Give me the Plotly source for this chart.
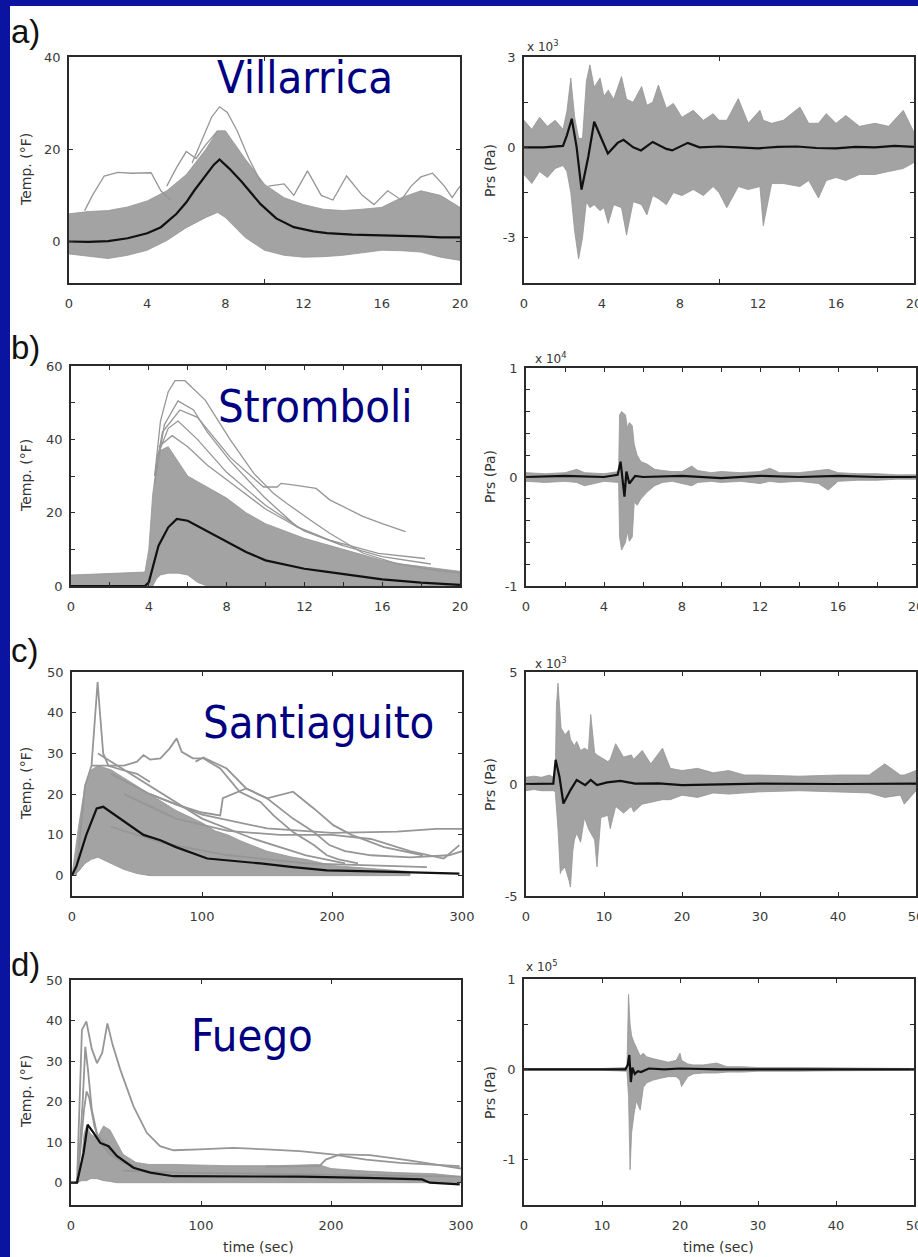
import plotly.graph_objects as go

W, H = 918, 1257

# ---------------- DATA ----------------
# a) Villarrica temperature (degF) vs time (s)
vil_t_x  = [0, 1, 2, 3, 4, 5, 6, 7, 7.6, 8, 9, 10, 11, 12, 13, 14, 15, 16, 17, 18, 19, 20]
vil_t_hi = [6, 6.5, 6.7, 7.5, 8.8, 11, 14.5, 20, 24, 24, 18, 12.4, 9.5, 8, 7, 6.7, 7, 7.4, 9.5, 11, 10, 7.4]
vil_t_lo = [-2.7, -3.2, -3.7, -3, -1.9, 0.2, 3, 5.2, 6.3, 5.2, 0.9, -1.9, -3, -3.4, -3.3, -3, -2.5, -1.9, -2, -2.3, -3.4, -4.1]
vil_t_o1_x = [0.8, 1.2, 1.8, 2.5, 3.2, 4.2, 4.7, 5.2]
vil_t_o1_y = [6.7, 10, 14.2, 15, 14.8, 14.9, 11, 9]
vil_t_o2_x = [6.3, 6.8, 7.3, 7.7, 8.1, 8.6, 9.2, 9.8]
vil_t_o2_y = [17, 22, 27, 29.2, 28, 24, 18, 13]
vil_t_o3_x = [10.2, 11, 11.5, 12.2, 12.9, 13.5, 14.2, 15, 15.6, 16.3, 17, 17.5, 18, 18.6, 19.2, 19.6, 20]
vil_t_o3_y = [12, 12.5, 10, 15.3, 10, 9, 14.2, 10, 8, 11, 9, 12, 14, 14.8, 12, 9.5, 12]
vil_t_o4_x = [5, 5.5, 6, 6.5, 7, 7.6]
vil_t_o4_y = [12, 16, 19.5, 18, 21, 24]
vil_t_m_x = [0, 1, 2, 3, 4, 4.7, 5.5, 6, 6.4, 7, 7.4, 7.7, 8.2, 8.8, 9.8, 10.6, 11.5, 12.5, 13.2, 14.5, 16.6, 18, 19, 20]
vil_t_m_y = [0, -0.1, 0.1, 0.7, 1.8, 3.1, 6, 8.5, 11, 14.5, 16.6, 17.8, 15.8, 13.1, 8.1, 5, 3.1, 2.2, 1.8, 1.5, 1.3, 1.1, 0.9, 0.9]

# a) Villarrica pressure (x 10^3 Pa)
vil_p_x  = [0, 0.4, 0.8, 1.2, 1.6, 2.0, 2.2, 2.4, 2.6, 2.8, 3.0, 3.2, 3.38, 3.6, 3.9, 4.1, 4.32, 4.6, 5.0, 5.26,
            5.6, 6.03, 6.3, 6.6, 6.89, 7.3, 7.66, 8.1, 8.68, 9.2, 9.7, 10.0, 10.4, 10.99, 11.5, 12.1, 12.27, 12.7, 13.3, 14.15,
            14.6, 15.1, 15.5, 16.0, 16.5, 17.2, 18.0, 18.7, 19.45, 20]
vil_p_hi = [0.9, 0.6, 1.0, 0.7, 0.9, 0.6, 1.2, 2.3, 1.0, 0.3, 0.3, 2.2, 2.74, 2.0, 2.3, 1.7, 1.9, 1.6, 2.35, 1.6,
            1.5, 2.02, 1.4, 1.5, 2.07, 1.3, 1.46, 1.0, 1.23, 0.9, 1.12, 0.9, 0.9, 1.62, 0.8, 1.23, 0.9, 0.8, 0.9, 1.34,
            0.8, 0.8, 1.12, 0.8, 1.06, 0.7, 0.8, 0.7, 1.23, 0.5]
vil_p_lo = [-0.9, -1.2, -0.8, -1.0, -0.7, -0.6, -0.8, -1.5, -2.8, -3.7, -3.0, -1.8, -2.0, -1.9, -2.1, -2.0, -2.52, -1.9, -2.0, -2.91,
            -1.8, -1.9, -2.24, -1.6, -1.7, -1.9, -1.5, -1.6, -1.4, -1.6, -1.3, -1.5, -2.0, -1.3, -1.4, -1.3, -2.6, -1.2, -1.2, -1.3,
            -1.1, -1.68, -1.1, -1.0, -1.1, -0.9, -0.9, -0.8, -0.7, -0.5]
vil_p_m_x = [0, 1, 2, 2.2, 2.45, 2.7, 2.95, 3.3, 3.6, 3.9, 4.3, 4.8, 5.1, 5.6, 6.0, 6.6, 7.3, 7.6, 8.4, 9.0, 10, 11, 12, 13, 14, 15, 16, 17, 18, 19, 20]
vil_p_m_y = [0, 0, 0.05, 0.4, 0.95, 0.0, -1.4, -0.3, 0.85, 0.4, -0.2, 0.15, 0.25, 0.0, -0.1, 0.18, -0.05, -0.1, 0.15, 0.0, 0.03, 0.0, -0.03, 0.02, 0.03, -0.02, -0.03, 0.02, 0.0, 0.05, 0.02]

# b) Stromboli temperature
str_t_x  = [0, 1, 2, 3, 3.8, 4.0, 4.2, 4.4, 4.6, 5.0, 5.5, 6, 6.5, 7, 8, 9, 10, 11, 12, 13, 14, 15, 16, 17, 18, 19, 20]
str_t_hi = [3, 3.2, 3.3, 3.5, 3.8, 10, 25, 33, 37, 38, 34, 30, 28.5, 27, 24, 20, 17, 15, 13, 11.5, 10, 8.5, 7, 6, 5.3, 4.5, 4]
str_t_lo = [0, 0, 0, 0, 0, 0, 0, 2, 3, 3.5, 3.5, 3, 1, 0, 0, 0, 0, 0, 0, 0, 0, 0, 0, 0, 0, 0, 0]
str_t_o1_x = [4.3, 4.6, 5.0, 5.35, 5.86, 6.9, 8.2, 9.4, 10.4, 11.1, 12.3, 13.3, 15, 16.7, 18.5, 20]
str_t_o1_y = [30, 45, 53, 56, 56, 50.7, 39.8, 30.7, 25.3, 22.5, 18, 14.4, 9, 6.2, 4.5, 3.5]
str_t_o2_x = [4.3, 4.7, 5.6, 6.5, 8.2, 9.9, 10.6, 10.8, 11.5, 12.6, 13.3, 15, 16, 17.2]
str_t_o2_y = [30, 42, 48, 46, 35, 27, 27, 28, 27.5, 26.6, 23.5, 19, 17, 14.8]
str_t_o3_x = [4.3, 4.8, 5.5, 6.3, 7, 8.2, 9.9, 11.6, 13.3, 15.8, 18.2]
str_t_o3_y = [28, 44, 50.5, 48, 42, 34, 24.4, 16.2, 12.5, 8.9, 7.5]
str_t_o4_x = [4.4, 5, 5.5, 6.5, 8, 10, 12, 14, 16, 18.5]
str_t_o4_y = [35, 43, 45, 40, 31, 22, 15, 11, 8, 6]
str_t_o5_x = [4.5, 5.2, 6, 7, 8.5, 10, 12, 14]
str_t_o5_y = [38, 41, 38, 33, 27, 21, 15, 11]
str_t_m_x = [0, 1, 2, 3, 3.8, 4.0, 4.2, 4.5, 5, 5.44, 6, 7, 8, 9, 10, 11, 12, 13, 14, 16, 18, 20]
str_t_m_y = [0, 0, 0, 0, 0, 1, 5, 11, 16, 18.3, 17.8, 15, 12, 9.3, 7, 5.8, 4.7, 4, 3.2, 1.8, 0.9, 0.3]

# b) Stromboli pressure (x 10^4 Pa)
str_p_x  = [0, 1, 2, 2.6, 3, 4, 4.75, 4.8, 4.9, 5.1, 5.2, 5.3, 5.45, 5.55, 5.7, 5.9, 6.2, 6.6, 7, 7.5,
            8, 8.5, 8.8, 9.5, 10, 11, 12, 12.5, 13, 14, 15, 15.5, 16, 17, 18, 19, 20]
str_p_hi = [0.04, 0.03, 0.04, 0.07, 0.04, 0.03, 0.05, 0.57, 0.6, 0.57, 0.45, 0.5, 0.47, 0.3, 0.2, 0.14, 0.12, 0.07, 0.06, 0.05,
            0.05, 0.1, 0.06, 0.04, 0.05, 0.04, 0.05, 0.08, 0.04, 0.04, 0.06, 0.07, 0.04, 0.03, 0.03, 0.02, 0.02]
str_p_lo = [-0.04, -0.05, -0.04, -0.05, -0.08, -0.04, -0.05, -0.55, -0.67, -0.6, -0.5, -0.59, -0.55, -0.23, -0.26, -0.2, -0.14, -0.08, -0.05, -0.04,
            -0.06, -0.08, -0.05, -0.04, -0.05, -0.04, -0.06, -0.04, -0.05, -0.04, -0.06, -0.12, -0.04, -0.03, -0.03, -0.02, -0.02]
str_p_m_x = [0, 2, 4, 4.7, 4.85, 4.95, 5.05, 5.15, 5.3, 5.6, 6, 8, 10, 12, 14, 16, 18, 20]
str_p_m_y = [0, 0.01, 0, 0.02, 0.14, -0.05, -0.18, 0.05, -0.06, 0.01, 0, 0.01, -0.01, 0.01, 0, 0.01, 0, 0]

# c) Santiaguito temperature
san_t_x  = [0, 5, 10, 15, 20, 30, 40, 50, 60, 70, 80, 90, 100, 110, 120, 130, 150, 170, 180, 200, 220, 240, 260]
san_t_hi = [0, 12, 22, 26, 27, 26, 24, 22, 20, 18, 16, 14.5, 13, 11, 10, 8.5, 6, 4.5, 4, 2.5, 2, 1.5, 1]
san_t_lo = [0, 1, 3, 4, 4.5, 3, 1.5, 0.5, 0, 0, 0, 0, 0, 0, 0, 0, 0, 0, 0, 0, 0, 0, 0]
san_t_o1_x = [3, 10, 15, 18, 19.7, 21.5, 24, 28, 38, 50, 60]
san_t_o1_y = [0, 22, 27, 40, 47.5, 40, 30, 27, 26, 25, 23]
san_t_o2_x = [15, 25, 40, 50, 55, 60, 68, 75, 80.5, 84.4, 93, 101, 114, 129, 145, 155, 170, 186, 196, 205, 220]
san_t_o2_y = [27, 27, 27, 28, 29.6, 28.5, 28.8, 31.2, 33.7, 30.4, 28.8, 28.8, 26.3, 20.6, 18.1, 14.8, 10.7, 7.5, 5, 4, 3]
san_t_o3_x = [60, 80, 100, 114, 116, 134, 150, 170, 186, 201, 215, 240, 270]
san_t_o3_y = [20, 17.5, 15.5, 14.8, 19, 21.4, 19, 20.6, 16.5, 12.4, 10, 7, 5]
san_t_o4_x = [95, 101, 119, 134, 150, 170, 186, 198, 210, 230, 260, 290, 300]
san_t_o4_y = [28, 29, 26.3, 21.4, 19, 14, 10.7, 7.5, 6, 5, 4.5, 5, 6]
san_t_o5_x = [30, 60, 100, 150, 200, 250, 280, 300]
san_t_o5_y = [25, 20, 15, 11.6, 10.5, 10.8, 11.5, 11.5]
san_t_o6_x = [40, 80, 120, 160, 200, 230, 260, 286, 298]
san_t_o6_y = [20, 14, 11, 10, 10, 9, 6, 4.2, 7.5]
san_t_o7_x = [30, 70, 120, 180, 230, 273]
san_t_o7_y = [12, 8, 5, 3, 2.5, 2.1]
san_t_o8_x = [20, 40, 70, 100, 140, 180, 210]
san_t_o8_y = [30, 26, 20, 14, 9, 5, 3]
san_t_m_x = [0, 3.6, 11, 19, 24, 37, 55, 68, 80, 104, 119, 145, 170, 196, 247, 298]
san_t_m_y = [0, 2.5, 10, 16.5, 16.9, 14, 10, 8.7, 7, 4.2, 3.8, 3, 2.1, 1.3, 0.9, 0.5]

# c) Santiaguito pressure (x 10^3 Pa)
san_p_x  = [0, 1, 2, 3, 3.5, 3.75, 3.9, 4.1, 4.4, 4.5, 5.0, 5.5, 5.7, 6, 6.2, 6.5, 7, 7.5, 8, 8.3, 8.8, 9.1, 9.6, 10.5, 10.8, 11.5,
            12.5, 13.5, 13.8, 14.9, 16, 17.5, 18.5, 20, 22, 24, 26, 28, 30, 35, 40, 44, 46, 48, 48.5, 50]
san_p_hi = [0.3, 0.35, 0.3, 0.4, 0.3, 0.35, 3.5, 4.5, 3.0, 2.5, 2.2, 2.4, 2.0, 1.8, 1.7, 1.9, 1.5, 1.6, 1.5, 3.1, 1.4, 1.3, 1.2, 1.0, 1.1, 1.8,
            1.2, 1.3, 1.1, 1.5, 0.9, 1.6, 0.7, 0.6, 0.7, 0.5, 0.6, 0.4, 0.4, 0.35, 0.4, 0.4, 0.9, 0.4, 0.4, 0.6]
san_p_lo = [-0.3, -0.25, -0.3, -0.3, -0.3, -0.35, -0.8, -2.0, -4.0, -3.9, -3.7, -4.3, -4.6, -3.0, -2.5, -2.2, -2.6, -1.5, -2.0, -2.2, -2.5, -3.7, -1.5, -1.4, -2.0, -1.0,
            -1.3, -1.0, -1.25, -0.9, -0.8, -0.7, -0.7, -0.5, -0.6, -0.4, -0.45, -0.4, -0.35, -0.3, -0.35, -0.4, -0.6, -0.5, -0.9, -0.3]
san_p_m_x = [0, 2, 3.5, 3.8, 4.3, 4.8, 5.7, 6.5, 7.6, 8.3, 9.1, 10.4, 12.1, 14, 17, 20, 25, 30, 40, 50]
san_p_m_y = [0, 0, 0.02, 1.08, 0.3, -0.87, -0.27, 0.18, -0.05, 0.18, -0.05, 0.07, 0.14, 0.02, 0.03, -0.05, 0.0, 0.02, 0.0, 0.02]

# d) Fuego temperature
fue_t_x  = [0, 5, 8, 10, 12, 15, 20, 25, 30, 35, 40, 50, 60, 80, 120, 160, 180, 190, 200, 220, 250, 280, 300]
fue_t_hi = [0, 0, 5, 12, 14, 12, 11, 14, 13, 10, 7, 5, 4.5, 4.5, 4.2, 4.2, 4.5, 4.5, 3.5, 3, 2.5, 2.2, 1.5]
fue_t_lo = [0, 0, 0.5, 0.5, 0.5, 1, 1, 0.5, 0.3, 0, 0, 0, 0, 0, 0, 0, 0, 0, 0, 0, 0, 0, 0]
fue_t_o1_x = [0, 4.6, 8.4, 11.8, 16, 20, 24, 28, 32, 37.9, 48, 58.3, 68.5, 78.8, 99, 125, 150, 176, 201, 227, 253, 278, 299]
fue_t_o1_y = [0, 0, 37.7, 39.8, 33, 29.5, 32, 39.3, 34, 27.9, 18.9, 12.3, 9, 8, 8.2, 8.6, 8.2, 7.8, 7, 5.7, 4.9, 4.5, 4.1]
fue_t_o2_x = [5, 9, 11, 13, 16, 20, 30, 40, 50]
fue_t_o2_y = [0, 20, 33.5, 28, 18, 12, 8, 5, 4]
fue_t_o3_x = [5, 10, 12, 14, 18, 22, 30, 40]
fue_t_o3_y = [0, 18, 22.5, 21, 14, 10, 7, 5]
fue_t_o4_x = [150, 180, 191, 196, 207, 230, 260, 300]
fue_t_o4_y = [4, 4, 4.1, 5.7, 7, 6.8, 5.5, 3.5]
fue_t_o5_x = [40, 80, 150, 200, 250, 300]
fue_t_o5_y = [3, 2.5, 2.2, 2, 1.8, 1.5]
fue_t_m_x = [0, 4.6, 9.7, 12.8, 17.4, 22.5, 28.9, 35.3, 48, 61, 78.8, 125, 176, 227, 270, 276, 299]
fue_t_m_y = [0, 0, 7.4, 14.3, 12.3, 9.8, 9.0, 6.6, 3.7, 2.5, 1.6, 1.6, 1.5, 1.2, 0.8, 0, -0.4]

# d) Fuego pressure (x 10^5 Pa)
fue_p_x  = [0, 5, 10, 13.2, 13.4, 13.6, 13.8, 14.1, 14.4, 14.9, 15.3, 15.7, 16.5, 17.4, 18.5, 19.5, 20, 20.2, 21, 21.7, 23, 24.7, 26, 28, 30, 35, 40, 45, 50]
fue_p_hi = [0.01, 0.01, 0.01, 0.02, 0.83, 0.5, 0.37, 0.3, 0.25, 0.15, 0.18, 0.14, 0.12, 0.1, 0.08, 0.1, 0.18, 0.1, 0.06, 0.05, 0.05, 0.07, 0.03, 0.03, 0.02, 0.02, 0.015, 0.01, 0.01]
fue_p_lo = [-0.01, -0.01, -0.01, -0.02, -0.3, -1.11, -0.7, -0.5, -0.35, -0.45, -0.2, -0.15, -0.12, -0.1, -0.08, -0.08, -0.12, -0.19, -0.08, -0.05, -0.04, -0.04, -0.03, -0.03, -0.02, -0.02, -0.015, -0.01, -0.01]
fue_p_m_x = [0, 13, 13.3, 13.5, 13.7, 13.9, 14.2, 14.6, 15, 16, 18, 20, 25, 30, 50]
fue_p_m_y = [0, 0, 0.05, 0.16, -0.14, 0.02, -0.05, -0.02, -0.03, 0.01, 0, 0.01, 0, 0, 0]

volcano_names = ["Villarrica", "Stromboli", "Santiaguito", "Fuego"]
panel_letters = ["a)", "b)", "c)", "d)"]
exponents = ["3", "4", "3", "5"]

# ---------------- FIGURE ----------------
GREY_FILL = "rgb(163,163,163)"
GREY_LINE = "rgb(150,150,150)"
BLACK = "#111111"
AXFONT = "DejaVu Sans, Verdana, sans-serif"

fig = go.Figure()


def axn(k):
    return ("x" if k == 1 else f"x{k}"), ("y" if k == 1 else f"y{k}")


def envelope(k, x, hi, lo):
    assert len(x) == len(hi) == len(lo)
    xa, ya = axn(k)
    fig.add_trace(go.Scatter(x=list(x) + list(x)[::-1], y=list(hi) + list(lo)[::-1],
                             fill="toself", fillcolor=GREY_FILL, mode="lines",
                             line=dict(color=GREY_LINE, width=0.8),
                             xaxis=xa, yaxis=ya, hoverinfo="skip", showlegend=False))


def gline(k, x, y, color=GREY_LINE, width=1.3):
    assert len(x) == len(y)
    xa, ya = axn(k)
    fig.add_trace(go.Scatter(x=x, y=y, mode="lines", line=dict(color=color, width=width),
                             xaxis=xa, yaxis=ya, hoverinfo="skip", showlegend=False))


# panel a
envelope(1, vil_t_x, vil_t_hi, vil_t_lo)
for xx, yy in [(vil_t_o1_x, vil_t_o1_y), (vil_t_o2_x, vil_t_o2_y), (vil_t_o3_x, vil_t_o3_y), (vil_t_o4_x, vil_t_o4_y)]:
    gline(1, xx, yy)
gline(1, vil_t_m_x, vil_t_m_y, BLACK, 2.2)
envelope(2, vil_p_x, vil_p_hi, vil_p_lo)
gline(2, vil_p_m_x, vil_p_m_y, BLACK, 2.2)
# panel b
envelope(3, str_t_x, str_t_hi, str_t_lo)
for xx, yy in [(str_t_o1_x, str_t_o1_y), (str_t_o2_x, str_t_o2_y), (str_t_o3_x, str_t_o3_y),
               (str_t_o4_x, str_t_o4_y), (str_t_o5_x, str_t_o5_y)]:
    gline(3, xx, yy)
gline(3, str_t_m_x, str_t_m_y, BLACK, 2.2)
envelope(4, str_p_x, str_p_hi, str_p_lo)
gline(4, str_p_m_x, str_p_m_y, BLACK, 2.2)
# panel c
envelope(5, san_t_x, san_t_hi, san_t_lo)
for xx, yy in [(san_t_o1_x, san_t_o1_y), (san_t_o2_x, san_t_o2_y), (san_t_o3_x, san_t_o3_y),
               (san_t_o4_x, san_t_o4_y), (san_t_o5_x, san_t_o5_y), (san_t_o6_x, san_t_o6_y),
               (san_t_o7_x, san_t_o7_y), (san_t_o8_x, san_t_o8_y)]:
    gline(5, xx, yy, width=1.8)
gline(5, san_t_m_x, san_t_m_y, BLACK, 2.2)
envelope(6, san_p_x, san_p_hi, san_p_lo)
gline(6, san_p_m_x, san_p_m_y, BLACK, 2.2)
# panel d
envelope(7, fue_t_x, fue_t_hi, fue_t_lo)
for xx, yy in [(fue_t_o1_x, fue_t_o1_y), (fue_t_o2_x, fue_t_o2_y), (fue_t_o3_x, fue_t_o3_y),
               (fue_t_o4_x, fue_t_o4_y), (fue_t_o5_x, fue_t_o5_y)]:
    gline(7, xx, yy, width=1.8)
gline(7, fue_t_m_x, fue_t_m_y, BLACK, 2.2)
envelope(8, fue_p_x, fue_p_hi, fue_p_lo)
gline(8, fue_p_m_x, fue_p_m_y, BLACK, 2.2)

# ---------------- AXES ----------------
def px_x(p):
    return p / W


def px_y(p):
    return 1 - p / H


TICKFONT = dict(family=AXFONT, size=13, color="#3a3a3a")

# (x px domain, y px domain, xrange, yrange, x labels, x minor ticks, y labels, y minor ticks)
axes_cfg = [
    ((69, 460), (57, 283), [0, 20], [-9, 40], [0, 4, 8, 12, 16, 20], [10], [0, 20, 40], None),
    ((524, 914), (57, 283), [0, 20], [-4.5, 3], [0, 4, 8, 12, 16, 20], [10], [-3, 0, 3], [-4.5, -1.5, 1.5]),
    ((71, 460), (366, 586), [0, 20], [0, 60], [0, 4, 8, 12, 16, 20], [2, 6, 10, 14, 18], [0, 20, 40, 60], [10, 30, 50]),
    ((526, 916), (368, 586), [0, 20], [-1, 1], [0, 4, 8, 12, 16, 20], [2, 6, 10, 14, 18],
     [-1, 0, 1], [-0.8, -0.6, -0.4, -0.2, 0.2, 0.4, 0.6, 0.8]),
    ((72, 462), (672, 896), [0, 300], [-5, 50], [0, 100, 200, 300], None, [0, 10, 20, 30, 40, 50], None),
    ((526, 916), (672, 896), [0, 50], [-5, 5], [0, 10, 20, 30, 40, 50], None, [-5, 0, 5], None),
    ((71, 461), (980, 1205), [0, 300], [-5.5, 50], [0, 100, 200, 300], None, [0, 10, 20, 30, 40, 50], None),
    ((524, 914), (979, 1205), [0, 50], [-1.5, 1], [0, 10, 20, 30, 40, 50], None, [-1, 0, 1], [-0.5, 0.5]),
]

layout_axes = {}
for i, (xd, yd, xr, yr, xt, xm, yt, ym) in enumerate(axes_cfg):
    k = i + 1
    xname = "xaxis" if k == 1 else f"xaxis{k}"
    yname = "yaxis" if k == 1 else f"yaxis{k}"
    xa, ya = axn(k)
    common = dict(showline=True, linecolor="#2a2a2a", linewidth=1.6, mirror="ticks",
                  ticks="inside", ticklen=4, tickwidth=1.2, tickcolor="#2a2a2a",
                  showgrid=False, zeroline=False, tickfont=TICKFONT, automargin=False,
                  fixedrange=True, ticklabeloverflow="allow")
    xticklen = 0 if k in (1, 2) else 4
    xd_ = dict(common, domain=[px_x(xd[0]), px_x(xd[1])], range=xr, anchor=ya,
               tickmode="array", tickvals=xt, ticktext=[str(v) for v in xt],
               ticklabelstandoff=8)
    xd_["ticklen"] = xticklen
    if xm:
        xd_["minor"] = dict(tickmode="array", tickvals=xm, ticks="inside", ticklen=4,
                            tickcolor="#2a2a2a", tickwidth=1.2, showgrid=False)
    yd_ = dict(common, domain=[px_y(yd[1]), px_y(yd[0])], range=yr, anchor=xa,
               tickmode="array", tickvals=yt, ticktext=[str(v) for v in yt],
               ticklabelstandoff=4)
    if ym:
        yd_["minor"] = dict(tickmode="array", tickvals=ym, ticks="inside", ticklen=4,
                            tickcolor="#2a2a2a", tickwidth=1.2, showgrid=False)
    layout_axes[xname] = xd_
    layout_axes[yname] = yd_

fig.update_layout(**layout_axes)

# ---------------- TEXT ----------------
ann = []
name_pos = [(305, 78), (315, 407), (318, 722), (252, 1035)]
for nm, (cx, cy) in zip(volcano_names, name_pos):
    ann.append(dict(text=nm, x=px_x(cx), y=px_y(cy), xref="paper", yref="paper",
                    xanchor="center", yanchor="middle", showarrow=False,
                    font=dict(family="DejaVu Sans Condensed, DejaVu Sans", size=45, color="#000080")))
letter_pos = [32, 347, 650, 964]
for lt, cy in zip(panel_letters, letter_pos):
    ann.append(dict(text=lt, x=px_x(9), y=px_y(cy), xref="paper", yref="paper",
                    xanchor="left", yanchor="middle", showarrow=False,
                    font=dict(family="Liberation Sans, Arial", size=33, color="#111")))
row_mid = [170, 476, 784, 1092]
for cy in row_mid:
    ann.append(dict(text="Temp. (°F)", x=px_x(26), y=px_y(cy), xref="paper", yref="paper",
                    xanchor="center", yanchor="middle", showarrow=False, textangle=-90,
                    font=dict(family=AXFONT, size=14, color="#333")))
    ann.append(dict(text="Prs (Pa)", x=px_x(490), y=px_y(cy), xref="paper", yref="paper",
                    xanchor="center", yanchor="middle", showarrow=False, textangle=-90,
                    font=dict(family=AXFONT, size=14, color="#333")))
exp_pos = [(543, 46), (551, 358), (551, 663), (542, 966)]
for ex, (cx, cy) in zip(exponents, exp_pos):
    ann.append(dict(text=f"x 10<sup>{ex}</sup>", x=px_x(cx), y=px_y(cy), xref="paper", yref="paper",
                    xanchor="center", yanchor="middle", showarrow=False,
                    font=dict(family=AXFONT, size=12, color="#333")))
for cx in (258, 718):
    ann.append(dict(text="time (sec)", x=px_x(cx), y=px_y(1247), xref="paper", yref="paper",
                    xanchor="center", yanchor="middle", showarrow=False,
                    font=dict(family=AXFONT, size=14, color="#333")))

shapes = [
    dict(type="rect", xref="paper", yref="paper", x0=0, x1=1, y0=px_y(6), y1=1,
         fillcolor="#0a14a0", line=dict(width=0), layer="above"),
    dict(type="rect", xref="paper", yref="paper", x0=0, x1=px_x(10), y0=0, y1=1,
         fillcolor="#0a14a0", line=dict(width=0), layer="above"),
]

fig.update_layout(width=W, height=H, margin=dict(l=0, r=0, t=0, b=0),
                  paper_bgcolor="white", plot_bgcolor="white",
                  showlegend=False, annotations=ann, shapes=shapes)

fig.write_html("out.html")
